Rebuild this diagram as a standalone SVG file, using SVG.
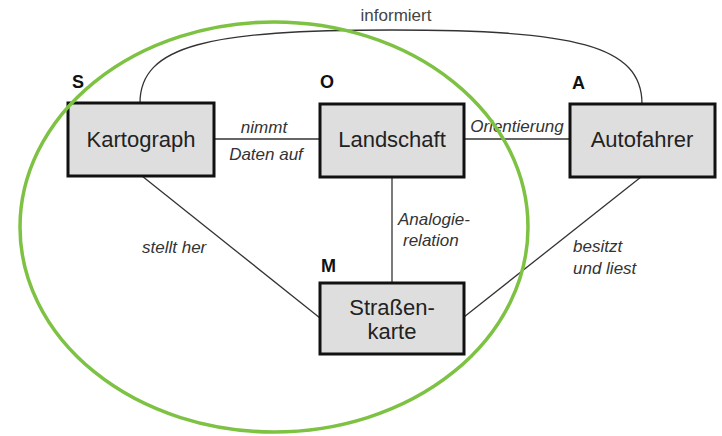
<svg xmlns="http://www.w3.org/2000/svg" width="722" height="436" viewBox="0 0 722 436">
<style>
.box{fill:#dedede;stroke:#111;stroke-width:3}
.nt{font-family:"Liberation Sans",Arial,sans-serif;font-size:22px;fill:#222;text-anchor:middle}
.lb{font-family:"Liberation Sans",Arial,sans-serif;font-size:17px;fill:#333;font-style:italic}
.lt{font-family:"Liberation Sans",Arial,sans-serif;font-size:18px;font-weight:bold;fill:#111}
.ln{fill:none;stroke:#333;stroke-width:1.3}
</style>
<rect width="722" height="436" fill="#fff"/>
<g id="connectors">
<path class="ln" d="M140,103 C140,45 210,30 392,30 S642,45 642,104"/>
<line class="ln" x1="214" y1="139" x2="320" y2="139"/>
<line class="ln" x1="464" y1="139" x2="570" y2="139"/>
<line class="ln" x1="392" y1="177" x2="392" y2="283"/>
<line class="ln" x1="142" y1="176" x2="320" y2="318"/>
<line class="ln" x1="464" y1="317" x2="641" y2="177"/>
<text x="396" y="21" font-family="Liberation Sans, Arial, sans-serif" font-size="17" fill="#444" text-anchor="middle">informiert</text>
<text class="lb" x="264" y="133" text-anchor="middle">nimmt</text>
<text class="lb" x="266" y="160" text-anchor="middle">Daten auf</text>
<text class="lb" x="517" y="132" text-anchor="middle">Orientierung</text>
<text class="lb" x="398" y="225">Analogie-</text>
<text class="lb" x="403" y="246">relation</text>
<text class="lb" x="142" y="253">stellt her</text>
<text class="lb" x="573" y="252">besitzt</text>
<text class="lb" x="573" y="274">und liest</text>
</g>
<g id="kartograph">
<text class="lt" x="72" y="88">S</text>
<rect class="box" x="68" y="103" width="146" height="73"/>
<text class="nt" x="141" y="147">Kartograph</text>
</g>
<g id="landschaft">
<text class="lt" x="320" y="88">O</text>
<rect class="box" x="320" y="104" width="144" height="73"/>
<text class="nt" x="392" y="147">Landschaft</text>
</g>
<g id="autofahrer">
<text class="lt" x="572" y="89">A</text>
<rect class="box" x="570" y="104" width="145" height="73"/>
<text class="nt" x="642" y="147">Autofahrer</text>
</g>
<g id="strassenkarte">
<text class="lt" x="321" y="272">M</text>
<rect class="box" x="320" y="283" width="144" height="71"/>
<text class="nt" x="392" y="315" font-size="21">Straßen-</text>
<text class="nt" x="392" y="339" font-size="21">karte</text>
</g>
<g id="ellipse">
<ellipse cx="274" cy="227" rx="254" ry="205" fill="none" stroke="#7dc242" stroke-width="3.5"/>
</g>
</svg>
